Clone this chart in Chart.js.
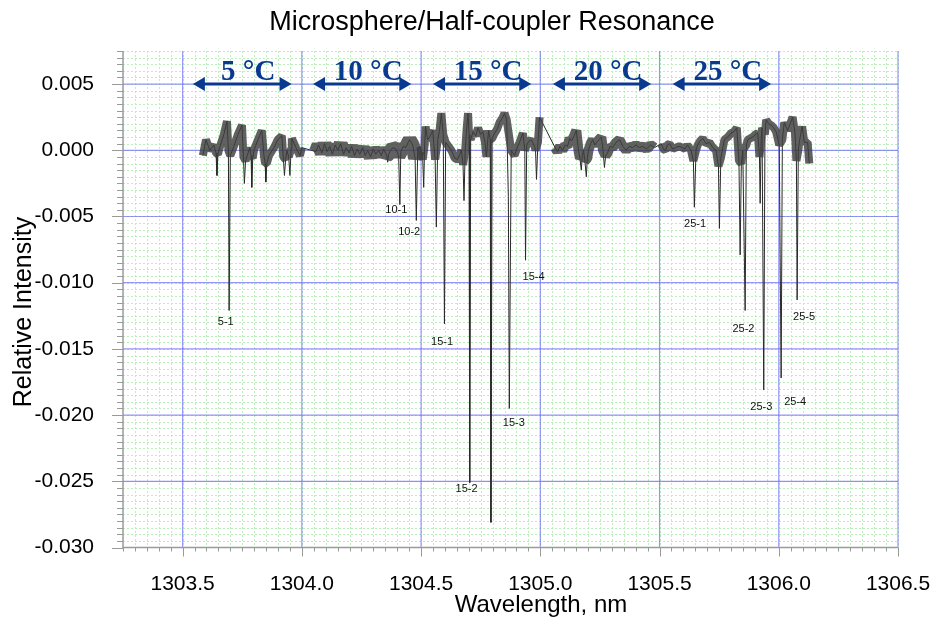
<!DOCTYPE html>
<html>
<head>
<meta charset="utf-8">
<title>Microsphere/Half-coupler Resonance</title>
<script src="https://cdn.jsdelivr.net/npm/chart.js@4.4.0/dist/chart.umd.min.js"></script>
<style>
  html, body { margin: 0; padding: 0; background: #fff; }
  #wrap { width: 935px; height: 621px; }
</style>
</head>
<body>
<div id="wrap"><canvas id="myChart" width="935" height="621"></canvas></div>
<script>
// Spectrum baseline segments, [wavelength nm, relative intensity], one per temperature
const seg5 = [
  [1303.585, -0.0004], [1303.598, 0.0008], [1303.614, 0.0000], [1303.631, 0.0004], [1303.640, -0.0002],
  [1303.648, -0.0003], [1303.652, 0.0000], [1303.673, 0.0012], [1303.686, 0.0022], [1303.692, 0.0000],
  [1303.700, -0.0004], [1303.715, 0.0003], [1303.732, 0.0012], [1303.749, 0.0019], [1303.755, -0.0005],
  [1303.764, -0.0008], [1303.769, -0.0005], [1303.782, 0.0002], [1303.787, -0.0004], [1303.794, -0.0006],
  [1303.799, 0.0000], [1303.816, 0.0008], [1303.832, 0.0015], [1303.841, -0.0004], [1303.846, -0.0010],
  [1303.853, -0.0010], [1303.862, -0.0004], [1303.883, 0.0002], [1303.899, 0.0008], [1303.916, 0.0011],
  [1303.922, -0.0005], [1303.932, -0.0007], [1303.937, 0.0000], [1303.945, -0.0005], [1303.955, 0.0001],
  [1303.958, 0.0009], [1303.975, 0.0002], [1303.992, -0.0004], [1304.000, 0.0002]
];
const seg10 = [
  [1304.059, -0.0001], [1304.070, 0.0004], [1304.084, -0.0002], [1304.095, 0.0005], [1304.106, -0.0001],
  [1304.117, 0.0003], [1304.128, -0.0003], [1304.140, 0.0004], [1304.151, 0.0000], [1304.163, 0.0005],
  [1304.175, -0.0003], [1304.186, 0.0002], [1304.198, -0.0002], [1304.209, 0.0003], [1304.221, -0.0004],
  [1304.232, 0.0001], [1304.243, -0.0003], [1304.255, 0.0002], [1304.266, -0.0004], [1304.276, 0.0000],
  [1304.288, -0.0005], [1304.299, 0.0001], [1304.310, -0.0003], [1304.322, 0.0000], [1304.333, -0.0004],
  [1304.343, 0.0001], [1304.356, -0.0004], [1304.364, -0.0003], [1304.369, -0.0001], [1304.381, 0.0002],
  [1304.394, 0.0001], [1304.406, -0.0004], [1304.415, -0.0001], [1304.425, 0.0003], [1304.436, 0.0002],
  [1304.446, 0.0006], [1304.452, 0.0008], [1304.465, 0.0004], [1304.475, -0.0006], [1304.486, 0.0000]
];
const seg15 = [
  [1304.495, 0.0003], [1304.501, 0.0000], [1304.507, -0.0007], [1304.515, 0.0004], [1304.519, 0.0018],
  [1304.527, 0.0008], [1304.536, 0.0010], [1304.549, 0.0015], [1304.559, -0.0007], [1304.570, 0.0008],
  [1304.578, 0.0016], [1304.585, 0.0028], [1304.593, 0.0012], [1304.603, 0.0006], [1304.615, 0.0003],
  [1304.627, 0.0000], [1304.641, -0.0006], [1304.653, -0.0007], [1304.669, 0.0000], [1304.676, -0.0011],
  [1304.685, 0.0000], [1304.691, 0.0016], [1304.697, 0.0028], [1304.701, 0.0012], [1304.708, 0.0008],
  [1304.718, 0.0014], [1304.729, 0.0011], [1304.739, 0.0017], [1304.749, 0.0012], [1304.759, 0.0014],
  [1304.768, 0.0006], [1304.774, -0.0005], [1304.783, 0.0015], [1304.790, 0.0008], [1304.798, 0.0009],
  [1304.809, 0.0013], [1304.819, 0.0016], [1304.829, 0.0021], [1304.840, 0.0024], [1304.850, 0.0028],
  [1304.859, 0.0023], [1304.878, 0.0000], [1304.892, -0.0004], [1304.903, 0.0002], [1304.913, 0.0006],
  [1304.927, 0.0013], [1304.935, 0.0000], [1304.943, 0.0004], [1304.948, 0.0006], [1304.962, 0.0008],
  [1304.976, 0.0003], [1304.980, 0.0000], [1304.990, 0.0006], [1304.997, 0.0025]
];
const seg20 = [
  [1305.062, 0.0002], [1305.072, -0.0001], [1305.083, 0.0003], [1305.093, 0.0000], [1305.104, 0.0004],
  [1305.114, 0.0003], [1305.123, 0.0009], [1305.131, 0.0007], [1305.142, 0.0011], [1305.151, 0.0015],
  [1305.160, 0.0000], [1305.166, -0.0006], [1305.176, -0.0004], [1305.181, 0.0000], [1305.187, -0.0008],
  [1305.197, -0.0006], [1305.202, 0.0000], [1305.211, 0.0005], [1305.220, 0.0008], [1305.228, 0.0004],
  [1305.236, 0.0006], [1305.246, 0.0008], [1305.256, 0.0010], [1305.263, 0.0000], [1305.274, -0.0004],
  [1305.282, -0.0002], [1305.292, 0.0003], [1305.303, 0.0002], [1305.318, 0.0006], [1305.332, 0.0008],
  [1305.346, 0.0003], [1305.360, 0.0000], [1305.373, 0.0003], [1305.387, 0.0002], [1305.401, 0.0004],
  [1305.416, 0.0002], [1305.430, 0.0003], [1305.445, 0.0001], [1305.462, 0.0004], [1305.479, 0.0002]
];
const seg25 = [
  [1305.507, 0.0005], [1305.516, 0.0001], [1305.525, 0.0000], [1305.533, 0.0004], [1305.542, 0.0005],
  [1305.555, 0.0001], [1305.567, 0.0002], [1305.582, 0.0003], [1305.596, 0.0002], [1305.607, 0.0001],
  [1305.617, 0.0004], [1305.632, 0.0000], [1305.642, -0.0008], [1305.653, 0.0000], [1305.660, 0.0004],
  [1305.670, 0.0007], [1305.681, 0.0009], [1305.695, 0.0005], [1305.709, 0.0006], [1305.724, 0.0002],
  [1305.737, 0.0000], [1305.747, -0.0012], [1305.757, -0.0006], [1305.772, 0.0008], [1305.786, 0.0010],
  [1305.800, 0.0013], [1305.812, 0.0014], [1305.824, 0.0017], [1305.833, -0.0008], [1305.843, -0.0010],
  [1305.849, 0.0000], [1305.864, 0.0004], [1305.870, 0.0008], [1305.880, 0.0009], [1305.891, 0.0010],
  [1305.902, 0.0012], [1305.912, 0.0013], [1305.919, -0.0005], [1305.926, 0.0008], [1305.930, 0.0017],
  [1305.942, 0.0012], [1305.947, 0.0023], [1305.958, 0.0020], [1305.968, 0.0019], [1305.979, 0.0017],
  [1305.989, 0.0014], [1306.002, 0.0004], [1306.015, 0.0008], [1306.023, 0.0021], [1306.037, 0.0015],
  [1306.048, 0.0020], [1306.058, 0.0025], [1306.068, 0.0013], [1306.074, -0.0008], [1306.082, 0.0000],
  [1306.086, 0.0006], [1306.098, 0.0018], [1306.107, 0.0006], [1306.121, 0.0006], [1306.128, -0.0010]
];

// Narrow resonance dips (minimum of each line)
const dips = [
  [1303.644, -0.0019], [1303.695, -0.0121], [1303.759, -0.0025], [1303.790, -0.0028], [1303.849, -0.0024],
  [1303.927, -0.0019], [1303.950, -0.0019],
  [1304.360, -0.0009], [1304.411, -0.0041], [1304.480, -0.0053],
  [1304.511, -0.0028], [1304.564, -0.0058], [1304.598, -0.0131], [1304.680, -0.0038],
  [1304.704, -0.0251], [1304.793, -0.0281], [1304.866, -0.0035], [1304.870, -0.0195], [1304.938, -0.0083],
  [1304.984, -0.0022],
  [1305.172, -0.0015], [1305.193, -0.0020], [1305.269, -0.0013],
  [1305.646, -0.0043], [1305.751, -0.0059], [1305.838, -0.0079], [1305.859, -0.0121],
  [1305.922, -0.0040], [1305.937, -0.0181], [1306.010, -0.0172], [1306.077, -0.0113]
];

// Dip labels
const dipLabels = ["5-1", "10-1", "10-2", "15-1", "15-2", "15-3", "15-4", "25-1", "25-2", "25-3", "25-4", "25-5"];
const dipLabelX = [1303.681, 1304.396, 1304.450, 1304.588, 1304.691, 1304.889, 1304.972, 1305.649, 1305.852, 1305.927, 1306.069, 1306.106];
const dipLabelY = [-0.0130, -0.0045, -0.0062, -0.0145, -0.0256, -0.0206, -0.0096, -0.0056, -0.0135, -0.0194, -0.0190, -0.0126];

// Temperature ranges
const tempLabels = ["5 °C", "10 °C", "15 °C", "20 °C", "25 °C"];
const tempStart = [1303.543, 1304.047, 1304.550, 1305.053, 1305.555];
const tempEnd = [1303.957, 1304.459, 1304.962, 1305.465, 1305.968];

// Axes
const xTicks = [1303.5, 1304.0, 1304.5, 1305.0, 1305.5, 1306.0, 1306.5];
const yTicks = [0.005, 0.000, -0.005, -0.010, -0.015, -0.020, -0.025, -0.030];
const X_MIN = 1303.25, X_MAX = 1306.5, X_MINOR = 0.05;
const Y_MIN = -0.030, Y_MAX = 0.0075, Y_MINOR = 0.0005;

const FONT = "'Liberation Sans', Arial, sans-serif";

const toPts = (arr) => arr.map((p) => ({ x: p[0], y: p[1] }));
const trace = [...seg5, ...seg10, ...seg15, ...seg20, ...seg25, ...dips].sort((a, b) => a[0] - b[0]);

// the noisy band under the thin trace
const band = (seg, w) => ({
  data: toPts(seg),
  borderColor: "rgba(62,62,62,0.82)",
  borderWidth: w,
  borderJoinStyle: "bevel",
  borderCapStyle: "butt",
  pointRadius: 0,
  tension: 0,
});

const gridPlugin = {
  id: "paperGrid",
  beforeDatasetsDraw(chart) {
    const { ctx, chartArea: a, scales: { x, y } } = chart;
    ctx.save();
    // minor green grid
    ctx.strokeStyle = "#bdeebd";
    ctx.lineWidth = 1;
    ctx.setLineDash([2, 2]);
    for (let i = 1; X_MIN + i * X_MINOR < X_MAX + 1e-9; i++) {
      const px = Math.round(x.getPixelForValue(X_MIN + i * X_MINOR)) + 0.5;
      ctx.beginPath(); ctx.moveTo(px, a.top); ctx.lineTo(px, a.bottom); ctx.stroke();
    }
    for (let i = 1; Y_MIN + i * Y_MINOR < Y_MAX + 1e-9; i++) {
      const py = Math.round(y.getPixelForValue(Y_MIN + i * Y_MINOR)) + 0.5;
      ctx.beginPath(); ctx.moveTo(a.left, py); ctx.lineTo(a.right, py); ctx.stroke();
    }
    ctx.setLineDash([]);
    // major blue grid
    ctx.strokeStyle = "rgba(105,105,245,0.7)";
    ctx.lineWidth = 1.2;
    xTicks.forEach((v) => {
      const px = x.getPixelForValue(v);
      ctx.beginPath(); ctx.moveTo(px, a.top); ctx.lineTo(px, a.bottom); ctx.stroke();
    });
    yTicks.forEach((v) => {
      const py = y.getPixelForValue(v);
      ctx.beginPath(); ctx.moveTo(a.left, py); ctx.lineTo(a.right, py); ctx.stroke();
    });
    // axes and tick marks
    ctx.strokeStyle = "#9a9a9a";
    ctx.lineWidth = 1.5;
    ctx.beginPath();
    ctx.moveTo(a.left, a.top); ctx.lineTo(a.left, a.bottom); ctx.lineTo(a.right, a.bottom);
    ctx.stroke();
    ctx.lineWidth = 1;
    for (let i = 0; X_MIN + i * X_MINOR < X_MAX + 1e-9; i++) {
      const v = X_MIN + i * X_MINOR;
      const major = xTicks.some((t) => Math.abs(t - v) < 1e-6);
      const px = Math.round(x.getPixelForValue(v)) + 0.5;
      ctx.beginPath(); ctx.moveTo(px, a.bottom); ctx.lineTo(px, a.bottom + (major ? 9 : 4)); ctx.stroke();
    }
    for (let i = 0; Y_MIN + i * Y_MINOR < Y_MAX + 1e-9; i++) {
      const v = Y_MIN + i * Y_MINOR;
      const major = yTicks.some((t) => Math.abs(t - v) < 1e-7);
      const py = Math.round(y.getPixelForValue(v)) + 0.5;
      ctx.beginPath(); ctx.moveTo(a.left, py); ctx.lineTo(a.left - (major ? 11 : 6), py); ctx.stroke();
    }
    ctx.restore();
  },
  afterDraw(chart) {
    const { ctx, scales: { x, y } } = chart;
    ctx.save();
    // temperature arrows
    const blue = "#0a3a8f";
    ctx.fillStyle = blue;
    ctx.strokeStyle = blue;
    const ay = y.getPixelForValue(0.005);
    tempLabels.forEach((lab, i) => {
      const x0 = x.getPixelForValue(tempStart[i]);
      const x1 = x.getPixelForValue(tempEnd[i]);
      ctx.lineWidth = 3;
      ctx.beginPath(); ctx.moveTo(x0 + 8, ay); ctx.lineTo(x1 - 8, ay); ctx.stroke();
      ctx.beginPath(); ctx.moveTo(x0, ay); ctx.lineTo(x0 + 12, ay - 7); ctx.lineTo(x0 + 12, ay + 7); ctx.closePath(); ctx.fill();
      ctx.beginPath(); ctx.moveTo(x1, ay); ctx.lineTo(x1 - 12, ay - 7); ctx.lineTo(x1 - 12, ay + 7); ctx.closePath(); ctx.fill();
      ctx.font = "bold 29px 'Liberation Serif', 'Times New Roman', serif";
      ctx.textAlign = "center";
      ctx.textBaseline = "alphabetic";
      ctx.fillText(lab, (x0 + x1) / 2 + 6, ay - 4);
    });
    // dip labels
    ctx.fillStyle = "#111";
    ctx.font = "11px " + FONT;
    ctx.textAlign = "center";
    ctx.textBaseline = "middle";
    dipLabels.forEach((lab, i) => {
      ctx.fillText(lab, x.getPixelForValue(dipLabelX[i]), y.getPixelForValue(dipLabelY[i]));
    });
    // titles
    ctx.fillStyle = "#000";
    ctx.font = "27px " + FONT;
    ctx.textBaseline = "alphabetic";
    ctx.fillText("Microsphere/Half-coupler Resonance", 492, 30);
    ctx.font = "24px " + FONT;
    ctx.fillText("Wavelength, nm", 541, 612);
    ctx.translate(31, 312);
    ctx.rotate(-Math.PI / 2);
    ctx.font = "25px " + FONT;
    ctx.fillText("Relative Intensity", 0, 0);
    ctx.restore();
  },
};

const ctx = document.getElementById("myChart").getContext("2d");
new Chart(ctx, {
  type: "line",
  data: {
    datasets: [
      band(seg5, 8),
      band(seg10, 14),
      band(seg15, 8),
      band(seg20, 10),
      band(seg25, 8),
      {
        data: toPts(trace),
        borderColor: "#2a2a2a",
        borderWidth: 1,
        pointRadius: 0,
        tension: 0,
      },
    ],
  },
  options: {
    responsive: false,
    animation: false,
    layout: { padding: { top: 51, right: 37, left: 0, bottom: 0 } },
    plugins: { legend: { display: false }, title: { display: false }, tooltip: { enabled: false } },
    scales: {
      x: {
        type: "linear",
        min: X_MIN,
        max: X_MAX,
        afterBuildTicks: (s) => { s.ticks = xTicks.map((v) => ({ value: v })); },
        afterFit: (s) => { s.height = 73.5; s.paddingLeft = 0; s.paddingRight = 0; },
        grid: { display: false },
        border: { display: false },
        ticks: {
          color: "#000",
          padding: 16,
          maxRotation: 0,
          autoSkip: false,
          font: { family: FONT, size: 21 },
          callback: (v) => Number(v).toFixed(1),
        },
      },
      y: {
        type: "linear",
        min: Y_MIN,
        max: Y_MAX,
        afterBuildTicks: (s) => { s.ticks = yTicks.map((v) => ({ value: v })); },
        afterFit: (s) => { s.width = 123; s.paddingTop = 0; s.paddingBottom = 0; },
        grid: { display: false },
        border: { display: false },
        ticks: {
          color: "#000",
          padding: 21,
          autoSkip: false,
          font: { family: FONT, size: 21 },
          callback: (v) => Number(v).toFixed(3),
        },
      },
    },
  },
  plugins: [gridPlugin],
});
</script>
</body>
</html>
